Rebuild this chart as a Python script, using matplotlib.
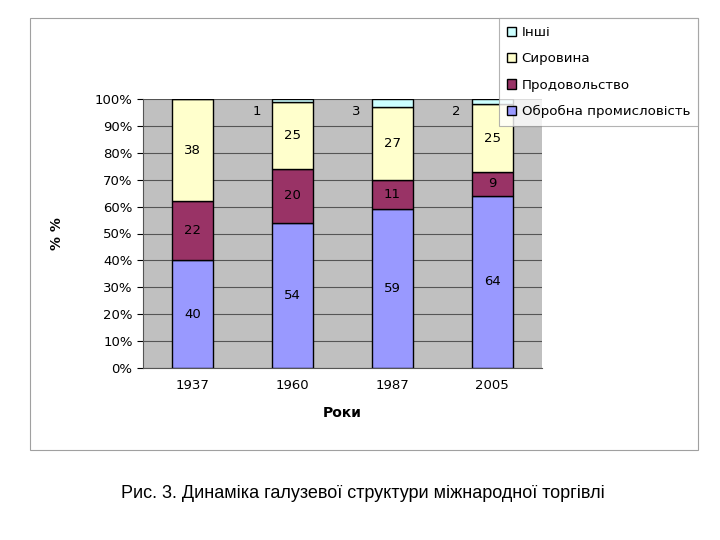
import numpy as np
import matplotlib.pyplot as plt
from matplotlib.patches import Rectangle

years = ['1937', '1960', '1987', '2005']
manufacturing = [40, 54, 59, 64]   # Обробна промисловість
food = [22, 20, 11, 9]             # Продовольство
raw = [38, 25, 27, 25]             # Сировина
other = [0, 1, 3, 2]               # Інші

series = [
    ('Обробна промисловість', manufacturing, '#9999FF'),
    ('Продовольство', food, '#993366'),
    ('Сировина', raw, '#FFFFCC'),
    ('Інші', other, '#CCFFFF'),
]

plt.rcParams['font.family'] = ['DejaVu Sans']

fig = plt.figure(figsize=(7.2, 5.4), dpi=100)
# outer chart frame
fig.patches.append(Rectangle((30 / 720, 1 - 450 / 540), 668 / 720, 432 / 540,
                             transform=fig.transFigure, fill=False,
                             edgecolor='#A0A0A0', linewidth=0.8))

ax = fig.add_axes([143 / 720, 1 - 368 / 540, 399 / 720, 269 / 540])
ax.set_facecolor('#C0C0C0')

x = np.arange(len(years))
bottom = np.zeros(len(years))
handles = []
for name, vals, color in series:
    vals = np.array(vals, dtype=float)
    bars = ax.bar(x, vals, 0.41, bottom=bottom, color=color,
                  edgecolor='black', linewidth=1.0, label=name, zorder=3)
    handles.append(bars)
    for i, v in enumerate(vals):
        if v == 0:
            continue
        if name == 'Інші':
            ax.text(x[i] - 0.36, 95.5, f'{int(v)}', ha='center', va='center',
                    fontsize=9.5, zorder=4)
        else:
            ax.text(x[i], bottom[i] + v / 2, f'{int(v)}', ha='center',
                    va='center', fontsize=9.5, zorder=4)
    bottom += vals

ax.set_xlim(-0.5, 3.5)
ax.set_ylim(0, 100)
ax.set_yticks(np.arange(0, 101, 10))
ax.set_yticklabels([f'{t}%' for t in range(0, 101, 10)], fontsize=9.5)
ax.set_xticks(x)
ax.set_xticklabels(years, fontsize=9.5)
ax.tick_params(axis='x', length=0, pad=8)
ax.tick_params(axis='y', length=4, width=0.8)
ax.yaxis.grid(True, color='#555555', linewidth=0.8, zorder=0)
ax.set_axisbelow(True)
for s in ['top', 'right']:
    ax.spines[s].set_visible(False)
ax.spines['left'].set_color('#555555')
ax.spines['bottom'].set_color('#555555')

ax.set_xlabel('Роки', fontsize=10, fontweight='bold', labelpad=10)
ax.set_ylabel('% %', fontsize=10, fontweight='bold', labelpad=22)

leg = fig.legend(handles[::-1], [s[0] for s in series][::-1],
                 loc='upper right', bbox_to_anchor=(698 / 720, 1 - 18 / 540),
                 fontsize=9.6, frameon=True, fancybox=False,
                 handlelength=0.7, handleheight=0.7, handletextpad=0.4,
                 labelspacing=1.0, borderpad=0.6, borderaxespad=0)
leg.get_frame().set_edgecolor('#A0A0A0')
leg.get_frame().set_linewidth(0.8)

fig.text(363 / 720, 1 - 493 / 540,
         'Рис. 3. Динаміка галузевої структури міжнародної торгівлі',
         ha='center', va='center', fontsize=13, family='Liberation Sans')

fig.savefig('out.png', dpi=100)
